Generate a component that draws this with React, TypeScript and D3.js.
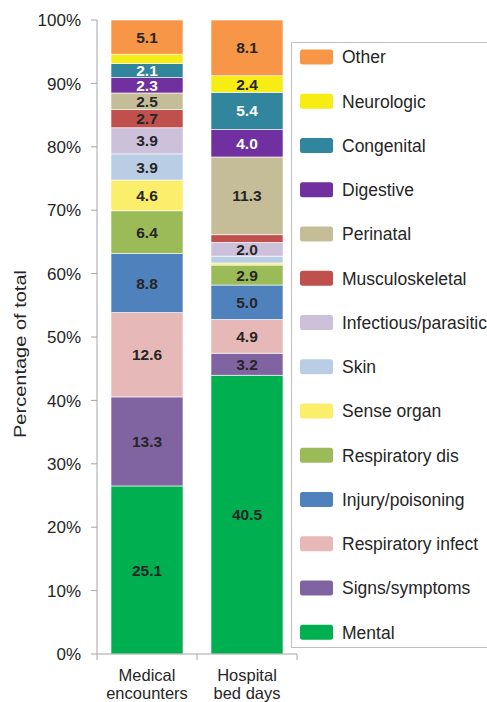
import React from "react";
import * as d3 from "d3";

const categories = ["Medical encounters", "Hospital bed days"];
const categoryLines = [["Medical", "encounters"], ["Hospital", "bed days"]];
const groups = [
  "Mental",
  "Signs/symptoms",
  "Respiratory infect",
  "Injury/poisoning",
  "Respiratory dis",
  "Sense organ",
  "Skin",
  "Infectious/parasitic",
  "Musculoskeletal",
  "Perinatal",
  "Digestive",
  "Congenital",
  "Neurologic",
  "Other",
];
const medicalValues = [25.1, 13.3, 12.6, 8.8, 6.4, 4.6, 3.9, 3.9, 2.7, 2.5, 2.3, 2.1, 1.4, 5.1];
const hospitalValues = [40.5, 3.2, 4.9, 5.0, 2.9, 0.3, 1.0, 2.0, 1.1, 11.3, 4.0, 5.4, 2.4, 8.1];
const colors = [
  "#00B050",
  "#8064A2",
  "#E6B9B8",
  "#4F81BD",
  "#9BBB59",
  "#FAEE6A",
  "#B9CDE5",
  "#CCC0DA",
  "#C0504D",
  "#C4BD97",
  "#7030A0",
  "#31859C",
  "#F7EC13",
  "#F79646",
];
const whiteLabelGroups = ["Digestive", "Congenital"];
const yTicks = [0, 0.1, 0.2, 0.3, 0.4, 0.5, 0.6, 0.7, 0.8, 0.9, 1.0];

const FONT = "'Liberation Sans', Arial, sans-serif";

export default function App() {
  const W = 487;
  const H = 702;
  const axisX = 97;
  const x = d3.scaleBand<string>().domain(categories).range([97, 297]).paddingInner(0.28).paddingOuter(0.14);
  const y = d3.scaleLinear().domain([0, 1]).range([654, 20]);

  const table = categories.map((c, i) => {
    const row: any = { category: c };
    const vals = i === 0 ? medicalValues : hospitalValues;
    groups.forEach((g, j) => (row[g] = vals[j]));
    return row;
  });
  const series = d3.stack<any>().keys(groups).offset(d3.stackOffsetExpand)(table);

  const legendTop = 57;
  const legendStep = 44.25;
  const legendOrder = [...groups].reverse();

  return (
    <svg width={W} height={H} style={{ position: "absolute", left: 0, top: 0 }} fontFamily={FONT}>
      <rect x={0} y={0} width={W} height={H} fill="#fff" />
      {/* bars */}
      {series.map((s, si) => (
        <g key={s.key} fill={colors[si]}>
          {s.map((d, ci) => {
            const x0 = x(categories[ci])!;
            const y0 = y(d[1]);
            const y1 = y(d[0]);
            return (
              <rect
                key={ci}
                x={x0}
                y={y0}
                width={x.bandwidth()}
                height={Math.max(0, y1 - y0)}
                stroke="#fff"
                strokeWidth={0.6}
              />
            );
          })}
        </g>
      ))}
      {/* bar labels */}
      {series.map((s, si) => (
        <g key={"l" + s.key}>
          {s.map((d, ci) => {
            const v = (ci === 0 ? medicalValues : hospitalValues)[si];
            if (v < 1.5) return null;
            const cx = x(categories[ci])! + x.bandwidth() / 2;
            const cy = (y(d[0]) + y(d[1])) / 2;
            return (
              <text
                key={ci}
                x={cx}
                y={cy}
                dy="0.36em"
                textAnchor="middle"
                fontSize={15.5}
                fontWeight="bold"
                fill={whiteLabelGroups.includes(s.key) ? "#fff" : "#262626"}
              >
                {v.toFixed(1)}
              </text>
            );
          })}
        </g>
      ))}
      {/* y axis */}
      <line x1={axisX} x2={axisX} y1={y(1)} y2={y(0)} stroke="#A6A6A6" strokeWidth={1} />
      {yTicks.map((t) => (
        <g key={t}>
          <line x1={axisX - 6} x2={axisX} y1={y(t)} y2={y(t)} stroke="#A6A6A6" />
          <text x={81} y={y(t)} dy="0.36em" textAnchor="end" fontSize={17} fill="#262626">
            {d3.format(".0%")(t)}
          </text>
        </g>
      ))}
      {/* x axis */}
      <line x1={axisX} x2={297} y1={y(0)} y2={y(0)} stroke="#A6A6A6" />
      {[0, 1, 2].map((i) => {
        const xx = 97 + i * x.step();
        return <line key={i} x1={xx} x2={xx} y1={y(0)} y2={y(0) + 6} stroke="#A6A6A6" />;
      })}
      {categories.map((c, i) => (
        <text key={c} x={x(c)! + x.bandwidth() / 2} textAnchor="middle" fontSize={16.5} fill="#262626">
          <tspan x={x(c)! + x.bandwidth() / 2} y={681}>
            {categoryLines[i][0]}
          </tspan>
          <tspan x={x(c)! + x.bandwidth() / 2} y={699}>
            {categoryLines[i][1]}
          </tspan>
        </text>
      ))}
      {/* y title */}
      <text transform="translate(26,354) rotate(-90)" textAnchor="middle" fontSize={17} fill="#262626" textLength={168} lengthAdjust="spacingAndGlyphs">
        Percentage of total
      </text>
      {/* legend */}
      <rect x={291.5} y={42.5} width={220} height={605} fill="#fff" stroke="#BFBFBF" />
      {legendOrder.map((g, i) => {
        const cy = legendTop + i * legendStep;
        const ci = groups.indexOf(g);
        return (
          <g key={g}>
            <rect x={300} y={cy - 7.5} width={33} height={15} rx={2.5} fill={colors[ci]} />
            <text x={342} y={cy} dy="0.36em" fontSize={17.5} fill="#262626">
              {g}
            </text>
          </g>
        );
      })}
    </svg>
  );
}
